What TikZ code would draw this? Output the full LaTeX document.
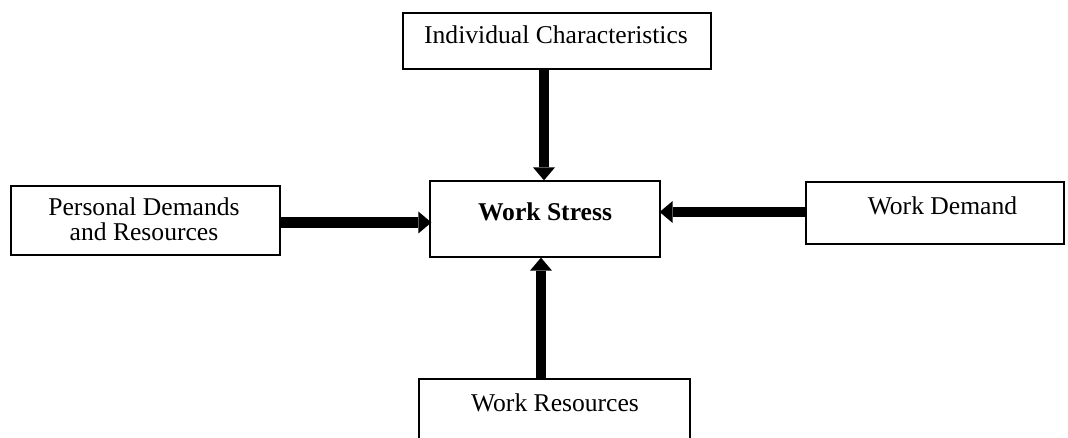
\documentclass[tikz,border=0pt]{standalone}
\usepackage{fontspec}
\setmainfont{Liberation Serif}
\usetikzlibrary{arrows.meta,calc}
\begin{document}
\begin{tikzpicture}[x=1pt,y=-1pt,
  box/.style={draw=black,line width=1.3pt,inner sep=0pt,rectangle},
  lbl/.style={font=\fontsize{25.6}{25}\selectfont,inner sep=0pt,align=center,text=black},
  flow/.style={line width=10.5pt,-{Triangle[width=22pt,length=13pt,line width=0pt]}}]
\useasboundingbox (0,0) rectangle (1068,438);

% boxes
\node[box,minimum width=308pt,minimum height=56pt] (ic) at (557,41) {};
\node[box,minimum width=230pt,minimum height=76pt] (ws) at (545,219) {};
\node[box,minimum width=269pt,minimum height=69pt] (pd) at (145.5,220.5) {};
\node[box,minimum width=258pt,minimum height=62pt] (wd) at (935,213) {};
\node[box,minimum width=271pt,minimum height=70pt] (wr) at (554.5,414) {};

% labels
\node[lbl] (icl) at (556,35) {Individual Characteristics};
\node[lbl,font=\fontsize{25.6}{25}\selectfont\bfseries] (wsl) at (545,212) {Work Stress};
\node[lbl] (pdl) at (144,219) {Personal Demands\\and Resources};
\node[lbl] (wdl) at (942.5,205.5) {Work Demand};
\node[lbl] (wrl) at (555,402.5) {Work Resources};

% influences on work stress
\draw[flow] ($(ic.south)+(-13,0)$) -- ($(ws.north)+(-1,0)$);
\draw[flow] ($(wr.north)+(-13.5,0)$) -- ($(ws.south)+(-4,0)$);
\draw[flow] ($(pd.east)+(0,2)$) -- ($(ws.west)+(2,3.5)$);
\draw[flow] ($(wd.west)+(0,-1)$) -- ($(ws.east)+(-1,-7)$);
\end{tikzpicture}
\end{document}
